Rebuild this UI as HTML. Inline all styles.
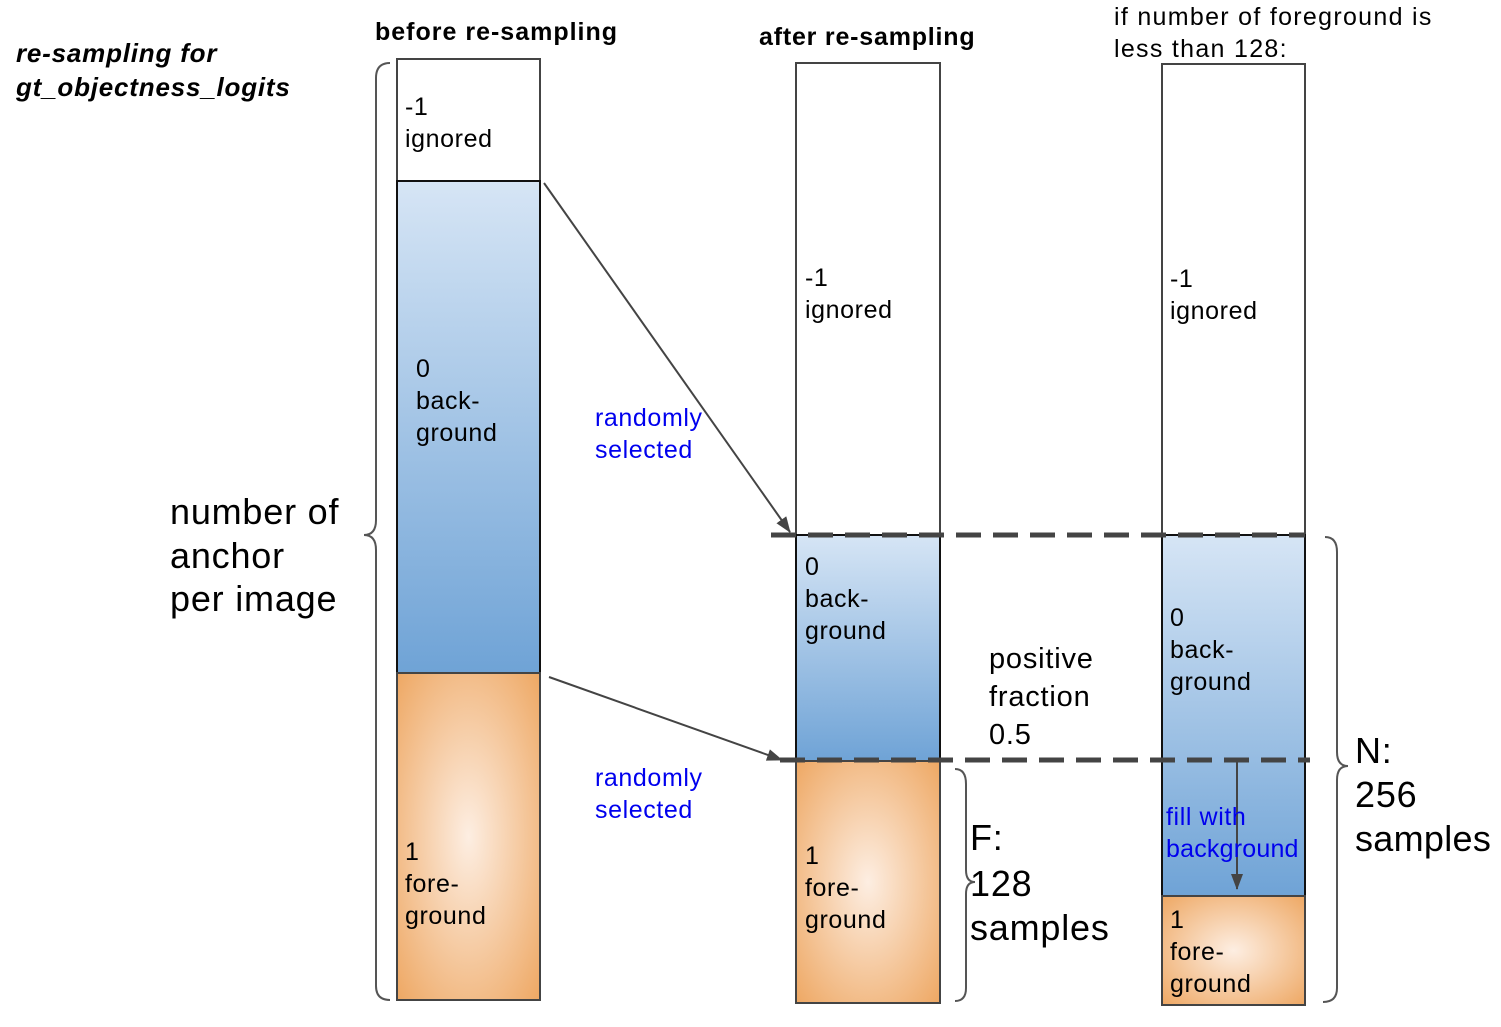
<!DOCTYPE html>
<html><head><meta charset="utf-8"><style>body{margin:0;background:#fff}svg{display:block}text{font-family:"Liberation Sans",sans-serif}</style></head><body>
<svg width="1501" height="1027" viewBox="0 0 1501 1027" xmlns="http://www.w3.org/2000/svg">
<defs>
<linearGradient id="b" x1="0" y1="0" x2="0" y2="1"><stop offset="0" stop-color="#d6e5f5"/><stop offset="1" stop-color="#6fa3d6"/></linearGradient>
<radialGradient id="o" cx="0.5" cy="0.5" r="0.7"><stop offset="0" stop-color="#fdeee2"/><stop offset="1" stop-color="#eea864"/></radialGradient>
<marker id="a2" markerWidth="16" markerHeight="16" refX="15" refY="8" orient="auto" markerUnits="userSpaceOnUse" viewBox="0 0 16 16"><path d="M0,2L16,8L0,14z" fill="#444"/></marker>
</defs>
<g font-size="25" letter-spacing="0.6">
<!-- col1 -->
<rect x="397" y="59" width="143" height="122" fill="#fff" stroke="#444" stroke-width="2"/>
<rect x="397" y="181" width="143" height="492" fill="url(#b)" stroke="#111" stroke-width="2"/>
<rect x="397" y="673" width="143" height="327" fill="url(#o)" stroke="#444" stroke-width="2"/>
<text x="405" y="115">-1</text><text x="405" y="147">ignored</text>
<text x="416" y="377">0</text><text x="416" y="409">back-</text><text x="416" y="441">ground</text>
<text x="405" y="860">1</text><text x="405" y="892">fore-</text><text x="405" y="924">ground</text>
<!-- col2 -->
<rect x="796" y="63" width="144" height="472" fill="#fff" stroke="#444" stroke-width="2"/>
<rect x="796" y="535" width="144" height="226" fill="url(#b)" stroke="#111" stroke-width="2"/>
<rect x="796" y="761" width="144" height="242" fill="url(#o)" stroke="#444" stroke-width="2"/>
<text x="805" y="286">-1</text><text x="805" y="318">ignored</text>
<text x="805" y="575">0</text><text x="805" y="607">back-</text><text x="805" y="639">ground</text>
<text x="805" y="864">1</text><text x="805" y="896">fore-</text><text x="805" y="928">ground</text>
<!-- col3 -->
<rect x="1162" y="64" width="143" height="471" fill="#fff" stroke="#444" stroke-width="2"/>
<rect x="1162" y="535" width="143" height="361" fill="url(#b)" stroke="#111" stroke-width="2"/>
<rect x="1162" y="896" width="143" height="109" fill="url(#o)" stroke="#444" stroke-width="2"/>
<text x="1170" y="287">-1</text><text x="1170" y="319">ignored</text>
<text x="1170" y="626">0</text><text x="1170" y="658">back-</text><text x="1170" y="690">ground</text>
<text x="1170" y="928">1</text><text x="1170" y="960">fore-</text><text x="1170" y="992">ground</text>
<!-- dashed -->
<line x1="771" y1="535" x2="1305" y2="535" stroke="#444" stroke-width="5" stroke-dasharray="25,12"/>
<line x1="780" y1="760" x2="1310" y2="760" stroke="#444" stroke-width="5" stroke-dasharray="25,12"/>
<!-- arrows -->
<line x1="544" y1="183" x2="790" y2="532" stroke="#444" stroke-width="2" marker-end="url(#a2)"/>
<line x1="549" y1="677" x2="782" y2="760" stroke="#444" stroke-width="2" marker-end="url(#a2)"/>
<line x1="1237" y1="761" x2="1237" y2="889" stroke="#444" stroke-width="2" marker-end="url(#a2)"/>
<g fill="#0000ee">
<text x="595" y="426">randomly</text><text x="595" y="458">selected</text>
<text x="595" y="786">randomly</text><text x="595" y="818">selected</text>
<text x="1166" y="825">fill with</text><text x="1166" y="857" letter-spacing="0.2">background</text>
</g>
<g letter-spacing="0.8">
<text x="989" y="668" font-size="29">positive</text><text x="989" y="706" font-size="29">fraction</text><text x="989" y="744" font-size="29">0.5</text>
</g>
<!-- braces -->
<path d="M390,63 Q376,63 376,78 L376,520 Q376,535 364,535 Q376,535 376,550 L376,986 Q376,1000 390,1000" fill="none" stroke="#555" stroke-width="2"/>
<path d="M1325,537 Q1337,537 1337,552 L1337,752 Q1337,766 1348,766 Q1337,766 1337,780 L1337,988 Q1337,1002 1323,1002" fill="none" stroke="#555" stroke-width="2"/>
<path d="M955,769 Q966,769 966,784 L966,870 Q966,882 975,882 Q966,882 966,894 L966,988 Q966,1001 955,1001" fill="none" stroke="#555" stroke-width="2"/>
<g font-size="36" letter-spacing="0.8">
<text x="170" y="524">number of</text><text x="170" y="568">anchor</text><text x="170" y="611">per image</text>
<text x="1355" y="763">N:</text><text x="1355" y="807">256</text><text x="1355" y="851" letter-spacing="0.3">samples</text>
<text x="970" y="850">F:</text><text x="970" y="896">128</text><text x="970" y="940">samples</text>
</g>
<text x="375" y="40" font-weight="bold" letter-spacing="1">before re-sampling</text>
<text x="759" y="45" font-weight="bold" letter-spacing="0.8">after re-sampling</text>
<text x="1114" y="25" letter-spacing="1.3">if number of foreground is</text><text x="1114" y="57" letter-spacing="1.3">less than 128:</text>
<text x="16" y="62" font-weight="bold" font-style="italic" font-size="26" letter-spacing="0.8">re-sampling for</text>
<text x="16" y="96" font-weight="bold" font-style="italic" font-size="26" letter-spacing="0.8">gt_objectness_logits</text>
</g>
</svg>
</body></html>
